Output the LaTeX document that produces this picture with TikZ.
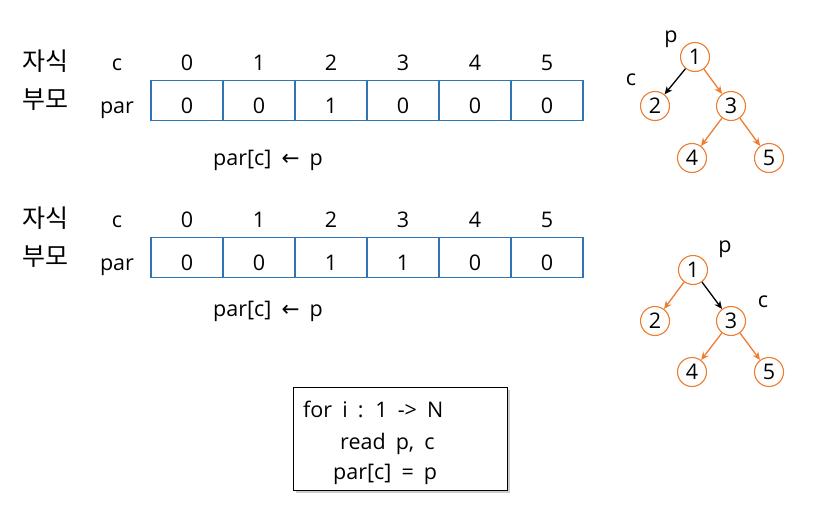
\documentclass[tikz,border=0pt]{standalone}
\usepackage{fontspec}
\setmainfont[WordSpace=1.8]{Open Sans}
\newfontfamily\kr{Noto Sans CJK KR}
\newfontfamily\dv{DejaVu Sans}
\usetikzlibrary{arrows.meta,shadows}
\definecolor{cellblue}{RGB}{46,117,182}
\definecolor{torange}{RGB}{237,125,49}
\tikzset{
  cell/.style={draw=cellblue,line width=1.2pt,minimum width=72pt,minimum height=40pt,inner sep=0pt},
  lbl/.style={inner sep=0pt,font=\fontsize{21.5}{24}\selectfont},
  krl/.style={inner sep=0pt,font=\kr\fontsize{25}{27}\selectfont},
  tnode/.style={circle,draw=torange,line width=1.1pt,minimum size=29pt,inner sep=0pt,font=\fontsize{21.5}{24}\selectfont},
  oedge/.style={draw=torange,line width=1.3pt,-{Stealth[length=8pt,width=7pt]}},
  bedge/.style={draw=black,line width=1.3pt,-{Stealth[length=8pt,width=7pt]}},
}
\begin{document}
\begin{tikzpicture}[x=1pt,y=-1pt]
\useasboundingbox (0,0) rectangle (825,514);
% ---- first array ----
\node[krl] (k1) at (45,61) {자식};
\node[krl] (m1) at (45,100) {부모};
\node[lbl,anchor=base] (c1) at (117,70) {c};
\node[lbl,anchor=base] (p1) at (117,113) {par};
\foreach \i/\v in {0/0,1/0,2/1,3/0,4/0,5/0}{
  \node[cell] (a\i) at (187+72*\i,100.5) {};
  \node[lbl,anchor=base] (v\i) at (187+72*\i,113) {\v};
  \node[lbl,anchor=base] (h\i) at (187+72*\i,70) {\i};
}
\node[lbl,anchor=base] (e1) at (268,165) {par[c] {\dv ←} p};
% ---- second array ----
\node[krl] (k2) at (45,218) {자식};
\node[krl] (m2) at (45,257) {부모};
\node[lbl,anchor=base] (c2) at (117,227) {c};
\node[lbl,anchor=base] (p2) at (117,270) {par};
\foreach \i/\v in {0/0,1/0,2/1,3/1,4/0,5/0}{
  \node[cell] (b\i) at (187+72*\i,257.5) {};
  \node[lbl,anchor=base] (w\i) at (187+72*\i,270) {\v};
  \node[lbl,anchor=base] (g\i) at (187+72*\i,227) {\i};
}
\node[lbl,anchor=base] (e2) at (268,316) {par[c] {\dv ←} p};
% ---- tree 1 ----
\node[tnode] (t1) at (695,57) {1};
\node[tnode] (t2) at (655,106) {2};
\node[tnode] (t3) at (731,106) {3};
\node[tnode] (t4) at (692,158) {4};
\node[tnode] (t5) at (769,158) {5};
\node[lbl] (tp) at (671,39) {p};
\node[lbl] (tc) at (631,80) {c};
\draw[bedge] (t1) -- (t2);
\draw[oedge] (t1) -- (t3);
\draw[oedge] (t3) -- (t4);
\draw[oedge] (t3) -- (t5);
% ---- tree 2 ----
\node[tnode] (u1) at (693,270) {1};
\node[tnode] (u2) at (655,321) {2};
\node[tnode] (u3) at (731,321) {3};
\node[tnode] (u4) at (692,372) {4};
\node[tnode] (u5) at (769,372) {5};
\node[lbl] (up) at (725,249) {p};
\node[lbl] (uc) at (763,302) {c};
\draw[oedge] (u1) -- (u2);
\draw[bedge] (u1) -- (u3);
\draw[oedge] (u3) -- (u4);
\draw[oedge] (u3) -- (u5);
% ---- code box ----
\node[draw,line width=1pt,fill=white,drop shadow={shadow xshift=3pt,shadow yshift=-3pt,opacity=0.4},minimum width=214pt,minimum height=103pt,inner sep=0pt] (box) at (400,438.5) {};
\node[lbl,anchor=base west] (l1) at (303,417) {for i : 1 -> N};
\node[lbl,anchor=base west] (l2) at (340,449) {read p, c};
\node[lbl,anchor=base west] (l3) at (333,479) {par[c] = p};
\end{tikzpicture}
\end{document}
